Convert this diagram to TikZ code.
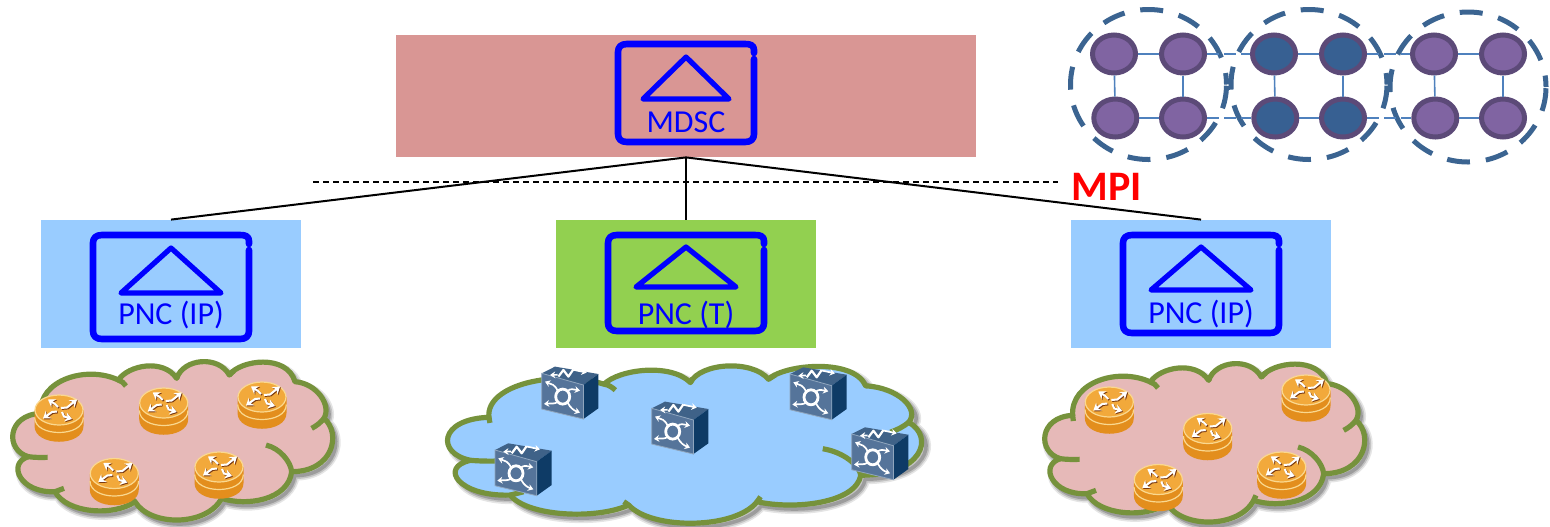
\documentclass[tikz,border=0pt]{standalone}
\usepackage{fontspec}
\setmainfont{Carlito}
\usetikzlibrary{arrows.meta,shapes.geometric}
\definecolor{mdscred}{HTML}{D99694}
\definecolor{ipblue}{HTML}{99CCFF}
\definecolor{tgreen}{HTML}{92D050}
\definecolor{cloudline}{HTML}{76923C}
\definecolor{cloudpink}{HTML}{E6B9B8}
\definecolor{nodepurple}{HTML}{8064A2}
\definecolor{nodeblue}{HTML}{376092}
\definecolor{nodeedge}{HTML}{5C4A78}
\definecolor{linkblue}{HTML}{4F81BD}
\definecolor{domainblue}{HTML}{3B6491}
\definecolor{rtop}{HTML}{F2A93B}
\definecolor{rside}{HTML}{E38E1D}
\definecolor{rlight}{HTML}{FAD88F}
\definecolor{rshadow}{HTML}{7A3A12}
\definecolor{cfront}{HTML}{55749A}
\definecolor{ctop}{HTML}{3F6288}
\definecolor{cright}{HTML}{0E3B66}
\definecolor{cedge}{HTML}{8FA5BD}
\tikzset{
  ctrlbox/.style={draw=none,inner sep=0pt,minimum height=64pt,minimum width=130pt},
  ctrltext/.style={text=blue,font=\fontsize{16}{18}\selectfont,inner sep=0pt},
  frameline/.style={draw=blue,line width=3.3pt,line cap=round,line join=round},
  triline/.style={draw=blue,line width=2.6pt,line join=round},
  cloudedge/.style={draw=cloudline,line width=2.6pt},
  curlline/.style={draw=cloudline,line width=2.6pt,line cap=butt},
  netnode/.style={ellipse,draw=nodeedge,line width=2.5pt,inner sep=0pt,minimum width=21.5pt,minimum height=19pt},
  purplenode/.style={netnode,fill=nodepurple},
  bluenode/.style={netnode,fill=nodeblue},
  domainring/.style={ellipse,draw=domainblue,line width=2.5pt,inner sep=0pt,minimum width=78pt,minimum height=75pt,dash pattern=on 11.5pt off 8pt,dash phase=5.75pt},
  netlink/.style={draw=linkblue,line width=0.8pt},
  dnetlink/.style={draw=linkblue,line width=0.8pt,dash pattern=on 6pt off 2.5pt},
  rarrow/.style={line width=1pt,-{Stealth[length=3.4pt,width=4.6pt]}},
  carrow/.style={draw=white,line width=.85pt,-{Stealth[length=2.6pt,width=3.4pt]}},
  routerpic/.pic={
    \fill[rside] (-24.5,0) -- (-24.5,16) .. controls (-24.5,37) and (24.5,37) .. (24.5,16) -- (24.5,0) -- cycle;
    \draw[rlight,line width=.6pt] (-24.3,7.5) .. controls (-24.3,27.5) and (24.3,27.5) .. (24.3,7.5);
    \fill[rtop,draw=rlight,line width=.6pt] (0,0) ellipse[x radius=24,y radius=15];
    \foreach \c/\d in {rshadow/.9,white/0}{
      \begin{scope}[shift={(\d,\d)},color=\c,draw=\c,fill=\c]
        \draw[rarrow] (2,-2) -- (8,-2.5) -- (18,-10.5);
        \draw[rarrow] (-2,1.5) -- (-7,2) -- (-16,8.5);
        \draw[rarrow] (-1,-3) -- (-4,-6) -- (-11,-10.5);
        \draw[rarrow] (3,2) -- (5,6.5) -- (13,9);
      \end{scope}
    }
  },
  cubepic/.pic={
    \fill[ctop] (0,0) -- (13.3,-6.7) -- (56.7,.7) -- (41.7,11.7) -- cycle;
    \fill[cright] (41.7,11.7) -- (56.7,.7) -- (56.7,35) -- (41.7,45.7) -- cycle;
    \fill[cfront,draw=cedge,line width=.4pt] (0,0) -- (41.7,11.7) -- (41.7,45.7) -- (0,35.7) -- cycle;
    \draw[white,line width=1.4pt] (21,23.3) ellipse[x radius=7,y radius=7.5];
    \draw[carrow] (16,17.5) .. controls (13,11) and (10,11) .. (3.3,8.3);
    \draw[carrow] (26,17.5) .. controls (29,15) and (32,16) .. (38.3,17.3);
    \draw[carrow] (16,28.5) .. controls (13,31) and (9,30) .. (2.3,30.6);
    \draw[carrow] (26,29.5) .. controls (29,35) and (32,37) .. (38.3,39.3);
    \draw[carrow] (16,1.5) -- (8.3,1.7);
    \draw[carrow] (31.7,-3.5) -- (45,-.7);
    \draw[white,line width=1.1pt,line join=round] (16.7,3.3) -- (21.7,-3.3) -- (26.7,3.3) -- (31.7,-4);
  }
}
\newcommand{\cloudoutline}[1]{%
  \path[#1] (122,190) .. controls (115,90) and (260,45) .. (355,90)
    .. controls (385,45) and (490,25) .. (530,85)
    .. controls (550,25) and (655,15) .. (688,75)
    .. controls (720,30) and (860,10) .. (885,95)
    .. controls (950,100) and (995,165) .. (972,205)
    .. controls (1025,250) and (1000,365) .. (875,365)
    .. controls (865,450) and (740,470) .. (665,445)
    .. controls (620,530) and (450,530) .. (405,455)
    .. controls (340,500) and (200,490) .. (165,425)
    .. controls (60,430) and (20,340) .. (85,320)
    .. controls (15,300) and (20,195) .. (122,190) -- cycle;}
\newcommand{\cloudshape}[3]{%
  \begin{scope}[#1]
    \begin{scope}[shift={(9,12)}]
      \cloudoutline{draw=black,draw opacity=.10,line width=5pt}
      \cloudoutline{draw=black,draw opacity=.15,line width=3.4pt}
      \cloudoutline{draw=black,draw opacity=.20,line width=1.8pt}
    \end{scope}
    \cloudoutline{fill=#2,cloudedge,line join=round}
    \draw[curlline] (355,90) .. controls (365,92) and (372,100) .. (378,108);
    \draw[curlline] (530,85) -- (534,72);
    \draw[curlline] (688,75) -- (702,62);
    \draw[curlline] (122,190) -- (124,207);
    \draw[curlline] (972,205) .. controls (960,220) and (948,228) .. (935,235);
    \draw[curlline] (875,365) .. controls (872,335) and (840,295) .. (798,285);
    \draw[curlline] (665,445) -- (672,430);
    \draw[curlline] (405,455) -- (395,445);
    \draw[curlline] (165,425) -- (192,415);
    \draw[curlline] (85,320) .. controls (100,322) and (120,323) .. (143,322);
    #3
  \end{scope}}
\newcommand{\ctrlicon}[7]{% left right top bottom halfwidth apex base
  \pgfmathsetmacro{\cmid}{(#1+#2)/2}
  \draw[frameline] (#2-3,#3+12) -- (#2-3,#3+9) .. controls (#2-3,#3+4) and (#2-7,#3+3) .. (#2-12,#3+3)
    -- (#1+12,#3+3) .. controls (#1+6,#3+3) and (#1+3,#3+6) .. (#1+3,#3+11)
    -- (#1+3,#4-11) .. controls (#1+3,#4-6) and (#1+6,#4-3) .. (#1+12,#4-3)
    -- (#2-12,#4-3) .. controls (#2-6,#4-3) and (#2-3,#4-6) .. (#2-3,#4-11)
    -- (#2-3,#3+18);
  \draw[triline] (\cmid,#6) -- (\cmid+#5,#7) -- (\cmid-#5,#7) -- cycle;}
\begin{document}
\begin{tikzpicture}[x=.5pt,y=-.5pt]
\useasboundingbox (0,0) rectangle (1550,526);
% boxes
\node[ctrlbox,fill=mdscred,minimum width=290pt,minimum height=61pt] (mdsc) at (686,96) {};
\node[ctrlbox,fill=ipblue] (pncl) at (171,284) {};
\node[ctrlbox,fill=tgreen] (pncm) at (686,284) {};
\node[ctrlbox,fill=ipblue] (pncr) at (1201,284) {};
% MPI line and connectors
\coordinate (mpia) at (313,182);
\coordinate (mpib) at (1058,182);
\draw[black,line width=.7pt,dash pattern=on 3pt off 2pt] (mpia) -- (mpib);
\draw[black,line width=1pt] (mdsc.south) -- (pncl.north);
\draw[black,line width=1pt] (mdsc.south) -- (pncm.north);
\draw[black,line width=1pt] (mdsc.south) -- (pncr.north);
\node[text=red,font=\fontsize{21}{23}\bfseries\selectfont,inner sep=0pt,anchor=west] (mpi) at (1071,187) {MPI};
% controllers
\ctrlicon{615}{757}{41}{145}{43}{57}{99}
\node[ctrltext] (mdsctext) at (686,122) {MDSC};
\ctrlicon{90}{252}{232}{342}{50}{248}{293}
\node[ctrltext] (pnc1text) at (171,315) {PNC (IP)};
\ctrlicon{605}{767}{232}{334}{50}{247}{287}
\node[ctrltext] (pnc2text) at (686,315) {PNC (T)};
\ctrlicon{1120}{1282}{232}{336}{50}{247}{290}
\node[ctrltext] (pnc3text) at (1201,314) {PNC (IP)};
% clouds
\cloudshape{shift={(0,350)},xscale=1/3,yscale=1/3}{cloudpink}{}
\cloudshape{shift={(428.7,354.4)},xscale=.4938,yscale=.331}{ipblue}{}
\cloudshape{shift={(1032,352)},xscale=1/3,yscale=1/3}{cloudpink}{}
% routers
\foreach \p in {(59,410),(163.7,403),(262,397),(114.3,473.5),(219,467),
                (1109.3,402),(1207.7,428.5),(1306,390),(1158.3,479.5),(1281.7,467)}
  \pic at \p {routerpic};
% switches
\foreach \p in {(541.7,373.3),(651.7,408.3),(790,374),(851.7,434),(495,450)}
  \pic at \p {cubepic};
% domains
\node[domainring] (d1) at (1148.5,84.5) {};
\node[domainring] (d2) at (1309,84.5) {};
\node[domainring] (d3) at (1468,87) {};
% network nodes
\node[purplenode] (a1) at (1114,54) {};
\node[purplenode] (a2) at (1183,54) {};
\node[purplenode] (a3) at (1115.3,118) {};
\node[purplenode] (a4) at (1183,118) {};
\node[bluenode] (b1) at (1274,54) {};
\node[bluenode] (b2) at (1343,54) {};
\node[bluenode] (b3) at (1275.3,118) {};
\node[bluenode] (b4) at (1343,118) {};
\node[purplenode] (c1) at (1434,54) {};
\node[purplenode] (c2) at (1503,54) {};
\node[purplenode] (c3) at (1435.3,118) {};
\node[purplenode] (c4) at (1503,118) {};
\foreach \g in {a,b,c}{
  \draw[netlink] (\g1) -- (\g2);
  \draw[netlink] (\g3) -- (\g4);
  \draw[netlink] (\g1) -- (\g3);
  \draw[netlink] (\g2) -- (\g4);
}
\draw[dnetlink] (a2) -- (b1);
\draw[dnetlink] (a4) -- (b3);
\draw[dnetlink] (b2) -- (c1);
\draw[dnetlink] (b4) -- (c3);
\end{tikzpicture}
\end{document}
